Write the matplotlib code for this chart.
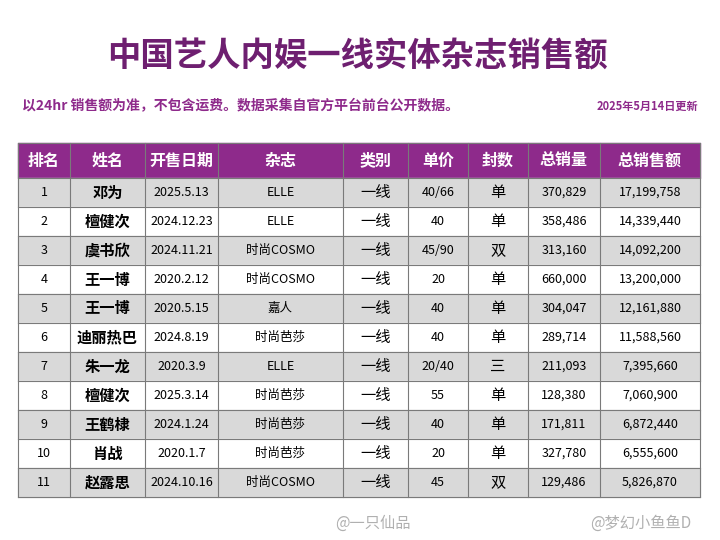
import matplotlib
matplotlib.use("Agg")
import matplotlib.pyplot as plt
from matplotlib.patches import Rectangle

plt.rcParams['font.family'] = ['Noto Sans CJK SC', 'DejaVu Sans']

headers = ["排名", "姓名", "开售日期", "杂志", "类别", "单价", "封数", "总销量", "总销售额"]
ranks = ["1","2","3","4","5","6","7","8","9","10","11"]
names = ["邓为","檀健次","虞书欣","王一博","王一博","迪丽热巴","朱一龙","檀健次","王鹤棣","肖战","赵露思"]
dates = ["2025.5.13","2024.12.23","2024.11.21","2020.2.12","2020.5.15","2024.8.19","2020.3.9","2025.3.14","2024.1.24","2020.1.7","2024.10.16"]
mags = ["ELLE","ELLE","时尚COSMO","时尚COSMO","嘉人","时尚芭莎","ELLE","时尚芭莎","时尚芭莎","时尚芭莎","时尚COSMO"]
cats = ["一线"]*11
prices = ["40/66","40","45/90","20","40","40","20/40","55","40","20","45"]
covers = ["单","单","双","单","单","单","三","单","单","单","双"]
volumes = [370829,358486,313160,660000,304047,289714,211093,128380,171811,327780,129486]
sales = [17199758,14339440,14092200,13200000,12161880,11588560,7395660,7060900,6872440,6555600,5826870]

fig = plt.figure(figsize=(7.2, 5.4), dpi=100)
ax = fig.add_axes([0, 0, 1, 1])
ax.set_xlim(0, 720); ax.set_ylim(540, 0); ax.axis('off')

ax.text(357, 57, "中国艺人内娱一线实体杂志销售额", ha='center', va='center',
        fontsize=24, fontweight='bold', color='#6e1f70')
ax.text(22, 106, "以24hr 销售额为准，不包含运费。数据采集自官方平台前台公开数据。", ha='left', va='center',
        fontsize=10, fontweight='bold', color='#8e2a8b')
ax.text(698, 106, "2025年5月14日更新", ha='right', va='center',
        fontsize=8, fontweight='bold', color='#8e2a8b')

cols = [18, 70, 145, 218, 343, 408, 468, 528, 600, 700]
top, hh, rh = 143, 35, 29
ax.add_patch(Rectangle((cols[0], top), cols[-1]-cols[0], hh, color='#8e2a8b', zorder=1))
for i, h in enumerate(headers):
    ax.text((cols[i]+cols[i+1])/2, top+hh/2, h, ha='center', va='center',
            fontsize=11.5, fontweight='bold', color='white', zorder=3)
rows = list(zip(ranks, names, dates, mags, cats, prices, covers,
                [f"{v:,}" for v in volumes], [f"{v:,}" for v in sales]))
for r, row in enumerate(rows):
    y = top + hh + r*rh
    ax.add_patch(Rectangle((cols[0], y), cols[-1]-cols[0], rh,
                           color='#d9d9d9' if r % 2 == 0 else 'white', zorder=1))
    for i, v in enumerate(row):
        ax.text((cols[i]+cols[i+1])/2, y+rh/2, v, ha='center', va='center',
                fontsize=11 if i in (1, 4, 6) else 9, fontweight='bold' if i == 1 else 'normal',
                color='black', zorder=3)
bottom = top + hh + len(rows)*rh
for x in cols:
    ax.plot([x, x], [top, bottom], color='#7a7a7a', lw=0.8, zorder=2)
for k in range(len(rows)+2):
    y = top if k == 0 else top + hh + (k-1)*rh
    ax.plot([cols[0], cols[-1]], [y, y], color='#7a7a7a', lw=0.8, zorder=2)

ax.text(335, 523, "@一只仙品", ha='left', va='center', fontsize=11, color='#b0b0b0')
ax.text(590, 523, "@梦幻小鱼鱼D", ha='left', va='center', fontsize=11, color='#b0b0b0')
fig.savefig("out.png", dpi=100, facecolor='white')
